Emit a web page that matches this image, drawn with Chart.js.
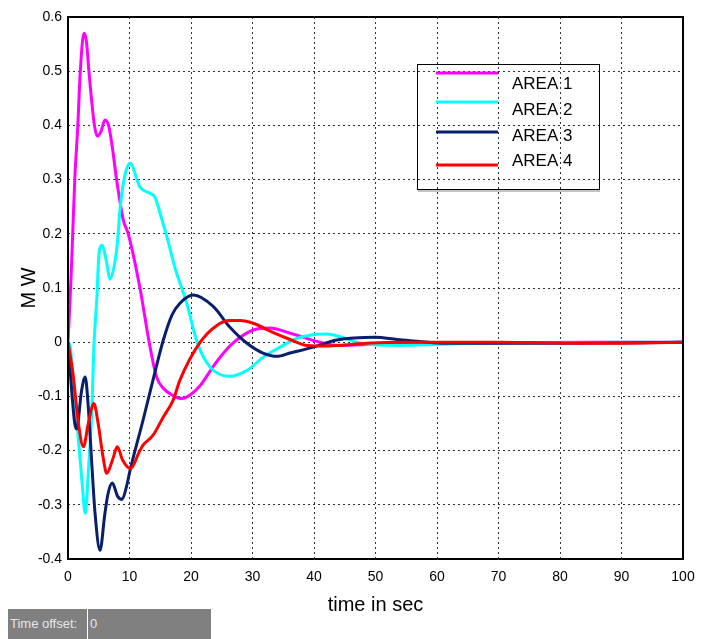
<!DOCTYPE html>
<html>
<head>
<meta charset="utf-8">
<script src="https://cdn.jsdelivr.net/npm/chart.js@4.4.1/dist/chart.umd.min.js"></script>
<style>
    body { margin: 0; background: #fff; }
    #wrap { position: relative; width: 707px; height: 639px; }
    #offset {
        position: absolute; left: 8px; top: 609px; width: 203px; height: 30px;
        background: #808080; color: #e6e6e6; white-space: nowrap;
        font: 13px "Liberation Sans", Arial, sans-serif;
    }
    #offset .lbl {
        position: absolute; left: 0; top: 0; width: 80px; height: 30px; line-height: 30px;
        padding-left: 2px; box-sizing: border-box; border-right: 1px solid #fff;
    }
    #offset .val { position: absolute; left: 82px; top: 0; line-height: 30px; }
</style>
</head>
<body>
<div id="wrap">
    <canvas id="chart"></canvas>
    <div id="offset"><span class="lbl">Time offset:</span><span class="val">0</span></div>
</div>
<script>
// Series (time in sec, MW)
const area1T = [0, 0.5, 1.1, 1.6, 2.0, 2.6, 3.0, 3.4, 4.3, 4.8, 5.4, 6.0, 6.6, 7.2, 7.9, 9.0, 9.8, 11.7, 13.2, 14.4,
    15.5, 17.0, 18.5, 19.8, 21.5, 23.6, 25.3, 27.0, 30.0, 32.8, 36.0, 41.0, 44.0, 50.0, 60.0, 73.0, 85.0, 100];
const area1V = [0, 0.12, 0.30, 0.40, 0.50, 0.57, 0.555, 0.50, 0.40, 0.38, 0.39, 0.41, 0.40, 0.36, 0.30, 0.225, 0.20, 0.10, 0.0, -0.064,
    -0.085, -0.098, -0.104, -0.098, -0.08, -0.045, -0.02, 0.0, 0.022, 0.026, 0.017, 0.0, -0.006, -0.004, -0.002, -0.001, 0, 0];

const area2T = [0, 0.4, 0.8, 1.7, 2.3, 2.8, 3.3, 3.9, 4.2, 4.7, 5.0, 5.5, 6.3, 6.8, 7.5, 8.0, 8.5, 9.3, 10.1, 11.7,
    13.3, 14.1, 15.3, 16.1, 17.4, 19.3, 21.0, 23.1, 26.3, 29.1, 31.7, 34.5, 37.2, 39.3, 42.1, 44.2, 47.5, 54, 60, 70, 100];
const area2V = [0, -0.01, -0.07, -0.18, -0.26, -0.316, -0.24, -0.12, -0.01, 0.083, 0.157, 0.179, 0.146, 0.116, 0.14, 0.18, 0.25, 0.31, 0.33, 0.286,
    0.275, 0.268, 0.225, 0.194, 0.137, 0.072, 0.0, -0.046, -0.063, -0.052, -0.028, -0.009, 0.007, 0.013, 0.015, 0.01, -0.002, -0.006, -0.004, -0.001, 0];

const area3T = [0, 0.6, 1.1, 1.4, 2.2, 2.8, 3.3, 3.9, 4.4, 5.2, 6.0, 6.5, 7.2, 8.1, 8.8, 9.5, 10.1, 12.2, 14.1, 15.5,
    16.9, 18.2, 20.4, 23.6, 26.3, 29.1, 31.7, 34.0, 36.1, 39.9, 43.7, 50, 53.5, 62, 80, 100];
const area3V = [0, -0.09, -0.15, -0.16, -0.09, -0.064, -0.12, -0.23, -0.316, -0.384, -0.316, -0.28, -0.26, -0.285, -0.29, -0.267, -0.236, -0.144, -0.057, 0.004,
    0.05, 0.072, 0.087, 0.066, 0.028, -0.002, -0.02, -0.026, -0.02, -0.009, 0.004, 0.009, 0.005, -0.002, -0.002, 0];

const area4T = [0, 0.8, 1.7, 2.5, 3.3, 4.2, 4.9, 5.7, 6.3, 7.3, 8.0, 8.9, 10.1, 11.7, 12.2, 13.8, 15.5, 17.1, 18.2, 21.5,
    24.2, 26.3, 28.0, 30.1, 33.3, 36.1, 38.9, 42.1, 45, 48.6, 55, 70, 85, 100];
const area4V = [0, -0.057, -0.15, -0.193, -0.15, -0.113, -0.15, -0.212, -0.242, -0.215, -0.193, -0.218, -0.233, -0.2, -0.19, -0.172, -0.138, -0.107, -0.07, 0.0,
    0.031, 0.04, 0.04, 0.035, 0.018, 0.005, -0.006, -0.007, -0.005, -0.002, 0, 0, -0.002, 0];

const seriesLabels = ['AREA 1', 'AREA 2', 'AREA 3', 'AREA 4'];
const xTicks = [0, 10, 20, 30, 40, 50, 60, 70, 80, 90, 100];
const yTicks = [-0.4, -0.3, -0.2, -0.1, 0, 0.1, 0.2, 0.3, 0.4, 0.5, 0.6];

const FONT = '"Liberation Sans", Arial, sans-serif';
const colors = ['#ff00ff', '#00ffff', '#0a1f6b', '#ff0000'];

function toPoints(ts, vs) {
    return ts.map((t, i) => ({ x: t, y: vs[i] }));
}

const series = [[area1T, area1V], [area2T, area2V], [area3T, area3V], [area4T, area4V]];
const drawOrder = [3, 2, 1, 0]; // red ends up on top

const datasets = series.map((s, i) => ({
    label: seriesLabels[i],
    data: toPoints(s[0], s[1]),
    borderColor: colors[i],
    borderWidth: 3,
    pointRadius: 0,
    fill: false,
    cubicInterpolationMode: 'monotone',
    order: drawOrder[i]
}));

// plot box + matlab style legend
const boxAndLegend = {
    id: 'boxAndLegend',
    afterDraw(chart) {
        const ctx = chart.ctx;
        const a = chart.chartArea;
        ctx.save();
        ctx.strokeStyle = '#000';
        ctx.lineWidth = 2;
        ctx.strokeRect(a.left, a.top, a.right - a.left, a.bottom - a.top);

        // legend frame
        ctx.lineWidth = 1;
        ctx.strokeRect(417.5, 64.5, 182, 125);
        ctx.strokeStyle = '#888';
        ctx.beginPath();
        ctx.moveTo(418, 191);
        ctx.lineTo(600, 191);
        ctx.stroke();

        const lineY = [73, 102, 132, 165];
        const textY = [84, 110, 136, 161];
        chart.data.datasets.forEach((ds, i) => {
            ctx.strokeStyle = ds.borderColor;
            ctx.lineWidth = 3;
            ctx.beginPath();
            ctx.moveTo(436, lineY[i]);
            ctx.lineTo(498, lineY[i]);
            ctx.stroke();
            ctx.fillStyle = '#000';
            ctx.font = '17px ' + FONT;
            ctx.textBaseline = 'middle';
            ctx.fillText(ds.label, 512, textY[i]);
        });
        ctx.restore();
    }
};

const gridStyle = { color: '#333', lineWidth: 1, drawTicks: false };

new Chart(document.getElementById('chart'), {
    type: 'line',
    data: { datasets: datasets },
    options: {
        responsive: true,
        maintainAspectRatio: false,
        animation: false,
        layout: { padding: { left: 0, top: 17, right: 24, bottom: 0 } },
        plugins: { legend: { display: false }, tooltip: { enabled: false } },
        scales: {
            x: {
                type: 'linear',
                min: 0,
                max: 100,
                afterBuildTicks: scale => { scale.ticks = xTicks.map(v => ({ value: v })); },
                afterFit: scale => { scale.height = 80; },
                grid: gridStyle,
                border: { display: false, dash: [2, 3] },
                ticks: { color: '#000', padding: 10, maxRotation: 0, font: { family: FONT, size: 14 } },
                title: {
                    display: true,
                    text: 'time in sec',
                    color: '#000',
                    font: { family: FONT, size: 20 },
                    padding: { top: 0, bottom: 22 }
                }
            },
            y: {
                type: 'linear',
                min: -0.4,
                max: 0.6,
                afterBuildTicks: scale => { scale.ticks = yTicks.map(v => ({ value: v })); },
                afterFit: scale => { scale.width = 68; },
                grid: gridStyle,
                border: { display: false, dash: [2, 3] },
                ticks: {
                    color: '#000',
                    padding: 6,
                    font: { family: FONT, size: 14 },
                    callback: v => String(Math.round(v * 10) / 10)
                },
                title: {
                    display: true,
                    text: 'M W',
                    color: '#000',
                    font: { family: FONT, size: 20 },
                    padding: { top: 17, bottom: 0 }
                }
            }
        }
    },
    plugins: [boxAndLegend]
});
</script>
</body>
</html>
